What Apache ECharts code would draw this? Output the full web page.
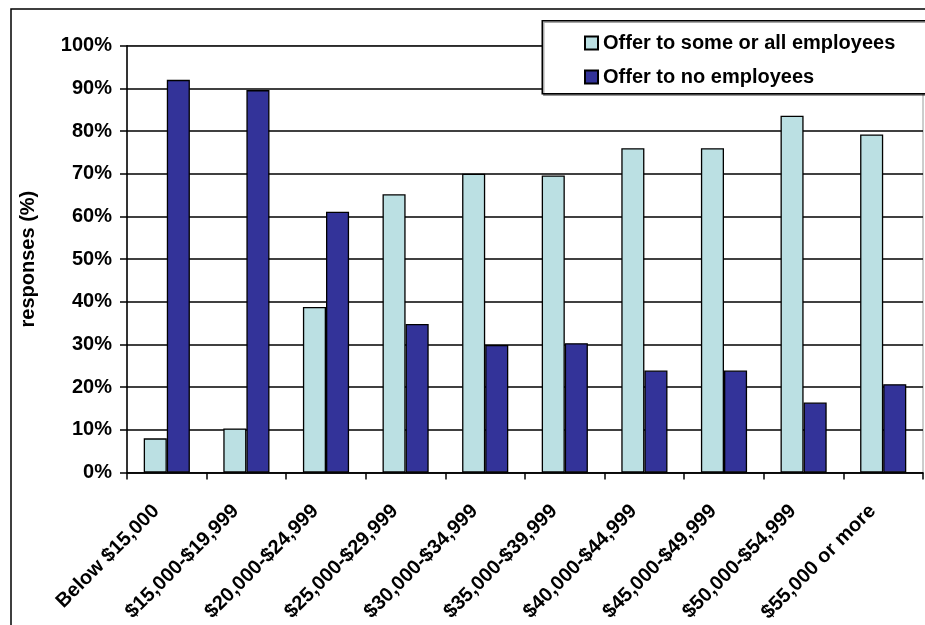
<!DOCTYPE html>
<html>
<head>
<meta charset="utf-8">
<title>Responses by income band</title>
<script src="https://cdn.jsdelivr.net/npm/echarts@6/dist/echarts.min.js"></script>
<style>
  html, body { margin: 0; padding: 0; background: #ffffff; }
  #chart { width: 925px; height: 625px; }
</style>
</head>
<body>
<div id="chart"></div>
<script>
// Income bands along the x axis
const categories = [
  'Below $15,000', '$15,000-$19,999', '$20,000-$24,999', '$25,000-$29,999',
  '$30,000-$34,999', '$35,000-$39,999', '$40,000-$44,999', '$45,000-$49,999',
  '$50,000-$54,999', '$55,000 or more'
];

// Share of responses (%) per band
const offerSomeOrAll = [8.0, 10.3, 38.8, 65.2, 70.0, 69.6, 76.0, 76.0, 83.6, 79.2];
const offerNone      = [92.0, 89.6, 61.1, 34.8, 29.9, 30.3, 23.9, 23.9, 16.4, 20.7];

const seriesNames = ['Offer to some or all employees', 'Offer to no employees'];

// Value axis ticks
const yMin = 0, yMax = 100, yStep = 10;

const FONT = '"Liberation Sans", Arial, Helvetica, sans-serif';
const textBold = { fontFamily: FONT, fontWeight: 'bold', fontSize: 20, color: '#000' };

const chart = echarts.init(document.getElementById('chart'), null, { renderer: 'canvas' });

chart.setOption({
  backgroundColor: '#ffffff',
  animation: false,
  grid: {
    left: 127, right: 2, top: 45.7, bottom: 152.3,
    show: true, borderColor: '#9a9a9a', borderWidth: 1, backgroundColor: 'transparent'
  },
  legend: {
    data: seriesNames,
    orient: 'vertical',
    left: 579, top: 28,
    itemWidth: 13, itemHeight: 13, itemGap: 14,
    icon: 'rect',
    z: 20,
    textStyle: Object.assign({}, textBold, { lineHeight: 20 })
  },
  xAxis: {
    type: 'category',
    data: categories,
    axisLine: { lineStyle: { color: '#000', width: 1.5 } },
    axisTick: { show: true, length: 7, alignWithLabel: false, lineStyle: { color: '#000', width: 1.5 } },
    axisLabel: Object.assign({}, textBold, {
      rotate: 45, margin: 25, interval: 0, padding: [0, 15, 0, 0]
    })
  },
  yAxis: {
    type: 'value',
    min: yMin, max: yMax, interval: yStep,
    name: 'responses (%)',
    nameLocation: 'middle',
    nameGap: 89,
    nameTextStyle: textBold,
    axisLine: { show: true, lineStyle: { color: '#000', width: 1.5 } },
    axisTick: { show: true, length: 7, lineStyle: { color: '#000', width: 1.5 } },
    axisLabel: Object.assign({}, textBold, { margin: 15, formatter: '{value}%' }),
    splitLine: { show: true, lineStyle: { color: '#000', width: 1.5 } }
  },
  series: [
    {
      name: seriesNames[0],
      type: 'bar',
      data: offerSomeOrAll,
      barGap: '0%',
      barCategoryGap: '42%',
      itemStyle: { color: '#bbe0e3', borderColor: '#000', borderWidth: 1.3 }
    },
    {
      name: seriesNames[1],
      type: 'bar',
      data: offerNone,
      barGap: '0%',
      barCategoryGap: '42%',
      itemStyle: { color: '#333399', borderColor: '#000', borderWidth: 1.3 }
    }
  ],
  graphic: [
    {
      // outer chart frame
      type: 'rect', left: 8.5, top: 6.5, z: 30, silent: true,
      shape: { width: 1000, height: 1000 },
      style: { fill: 'none', stroke: '#000', lineWidth: 1.5 }
    },
    {
      // legend panel
      type: 'rect', left: 541.5, top: 20, z: 15, silent: true,
      shape: { width: 500, height: 73 },
      style: {
        fill: '#fff', stroke: '#000', lineWidth: 1.5,
        shadowColor: 'rgba(0,0,0,0.35)', shadowOffsetX: 1.5, shadowOffsetY: 1.5, shadowBlur: 0
      }
    }
  ]
});
</script>
</body>
</html>
